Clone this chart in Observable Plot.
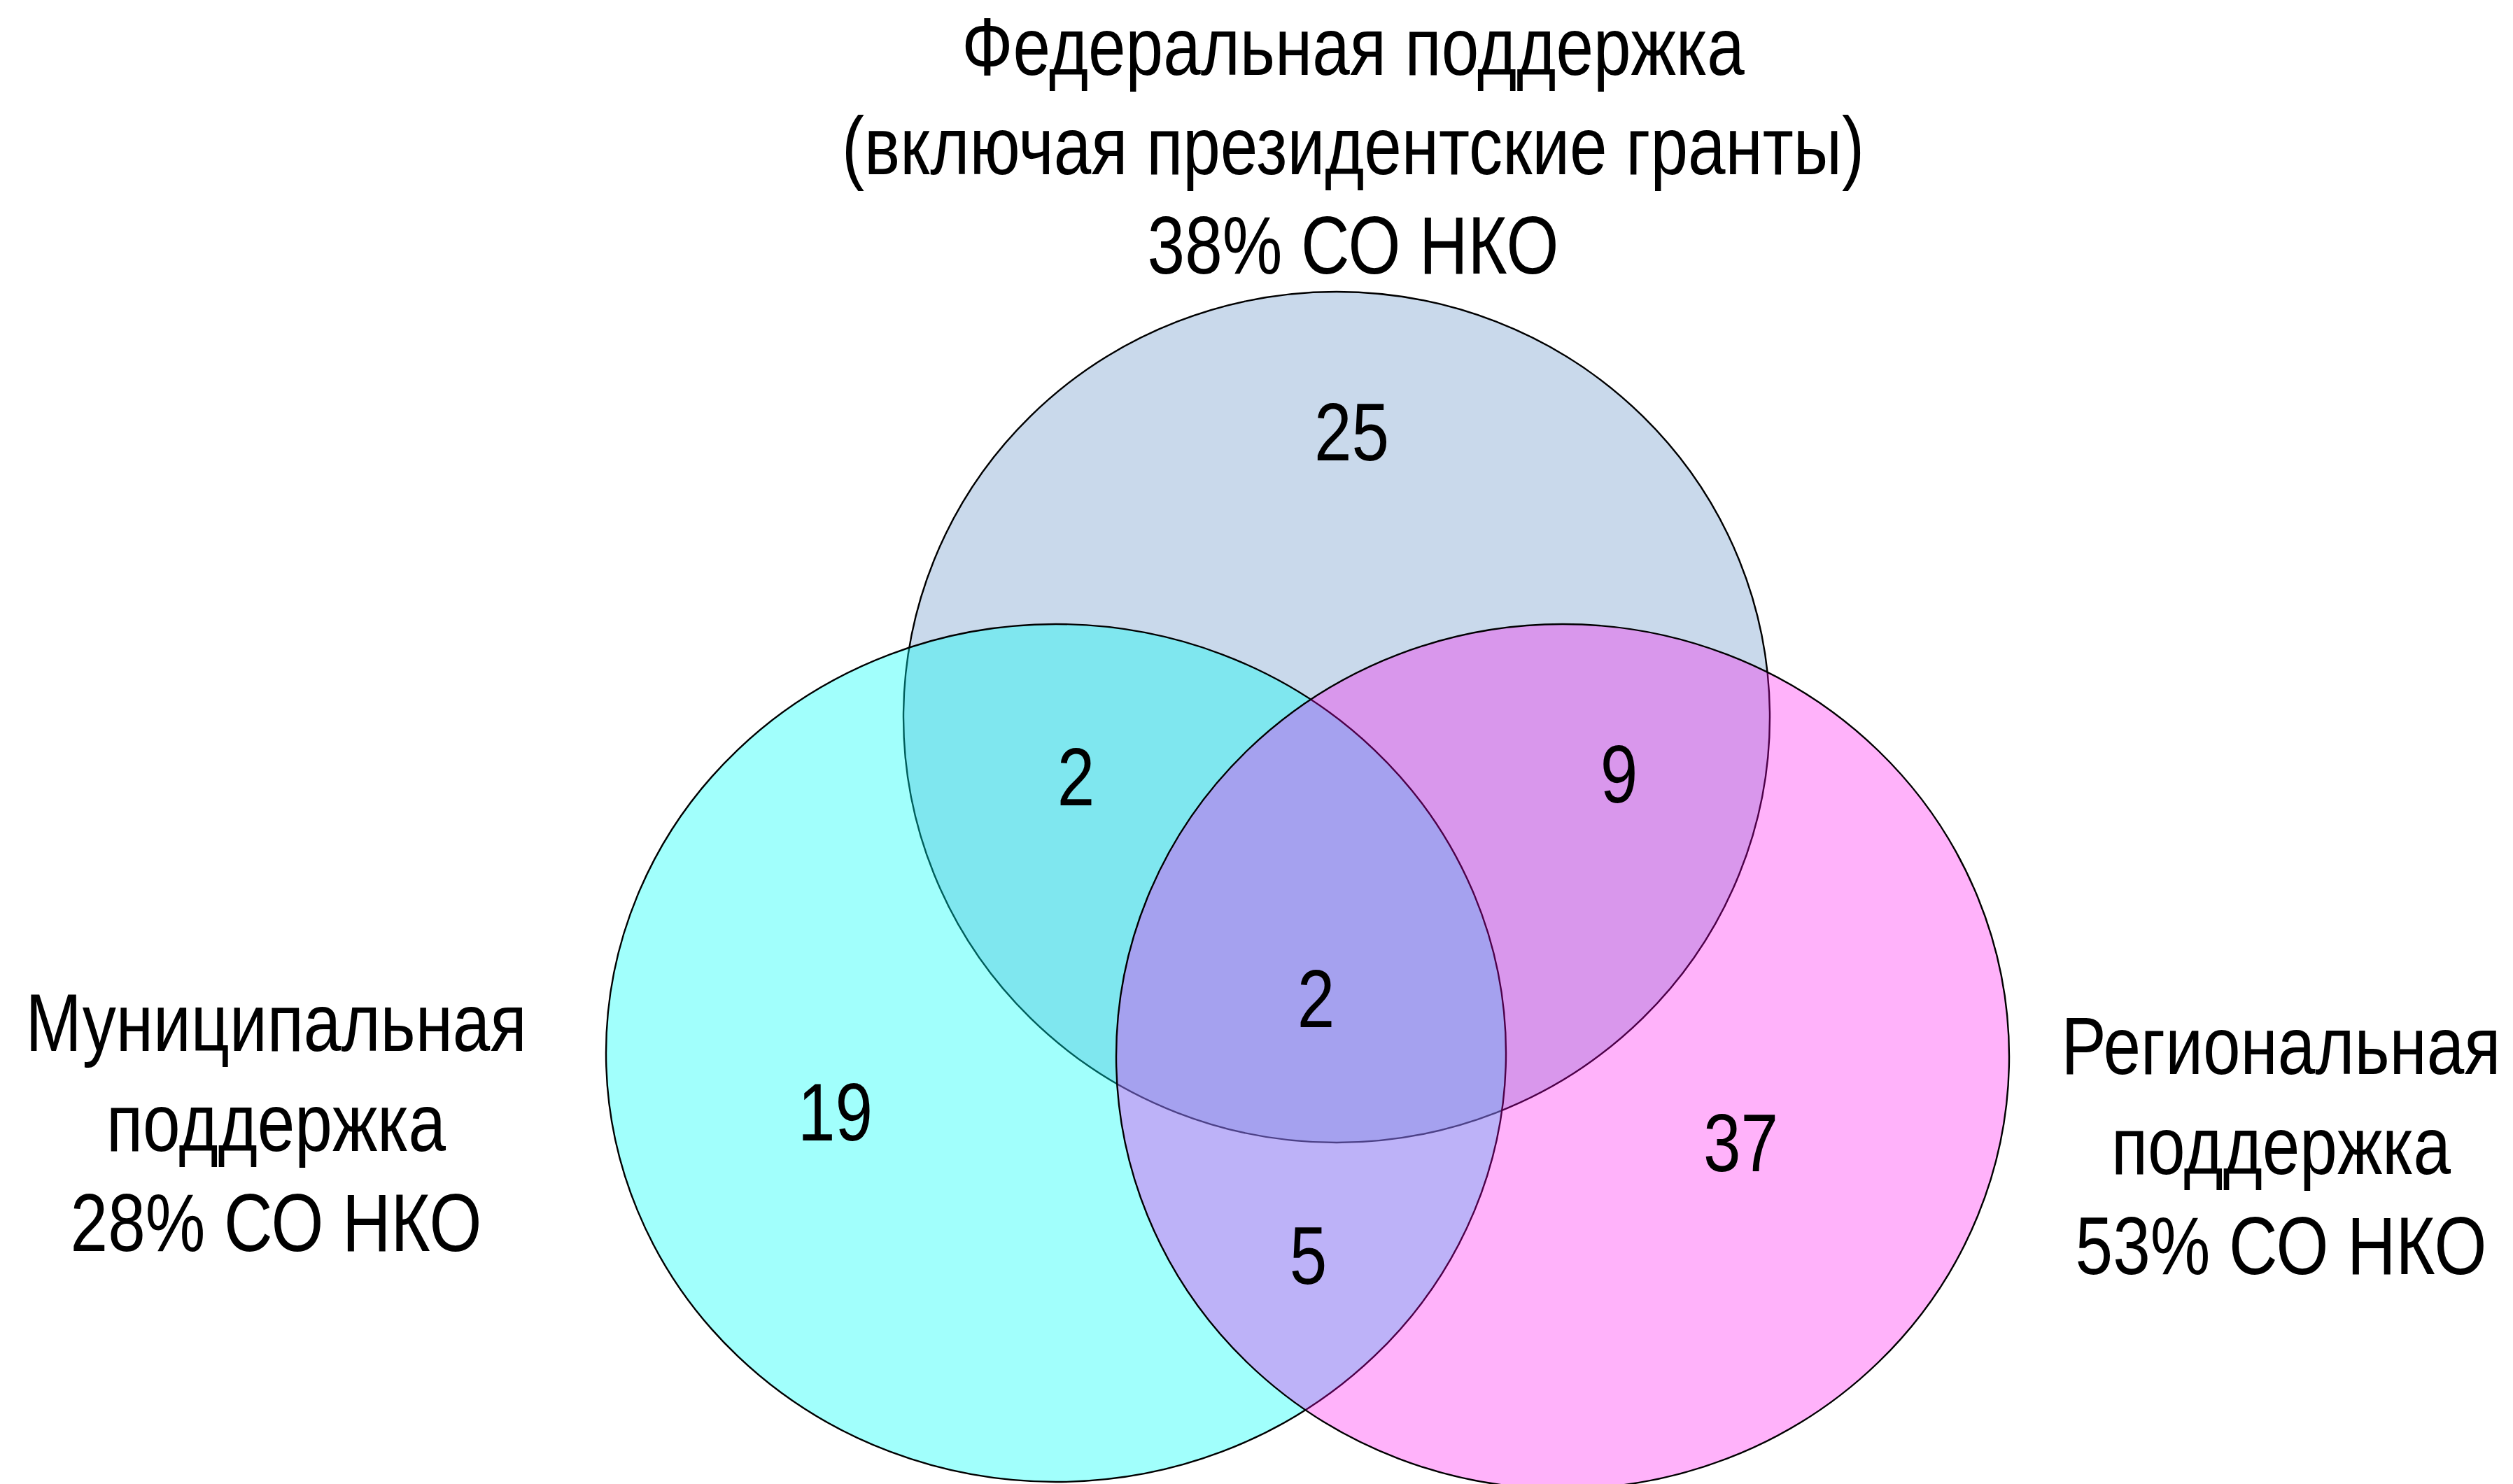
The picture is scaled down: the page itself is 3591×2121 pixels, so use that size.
<!DOCTYPE html>
<html>
<head>
<meta charset="utf-8">
<script src="https://cdn.jsdelivr.net/npm/d3@7"></script>
<script src="https://cdn.jsdelivr.net/npm/@observablehq/plot@0.6"></script>
<style>
  html, body { margin: 0; padding: 0; background: #ffffff; }
  #chart svg { display: block; }
</style>
</head>
<body>
<div id="chart"></div>
<script>
// ---------- DATA ----------
const setKeys = ["federal", "municipal", "regional"];
const setNames = [
  "Федеральная поддержка\n(включая президентские гранты)",
  "Муниципальная\nподдержка",
  "Региональная\nподдержка"
];
const setShares = [38, 28, 53];          // % СО НКО
const shareSuffix = "% СО НКО";

const regionKeys = ["F", "MF", "FR", "MFR", "M", "R", "MR"];
const regionCounts = [25, 2, 9, 2, 19, 37, 5];

// ---------- LAYOUT (canvas units, 3591 × 2121) ----------
const W = 3591, H = 2121;
const shapeGeom = {
  federal:   {cx: 1910, cy: 1025, rx: 619, ry: 608},
  municipal: {cx: 1509, cy: 1505, rx: 643, ry: 613},
  regional:  {cx: 2233, cy: 1510, rx: 638, ry: 618}
};
const shapeStyle = {
  federal:   {fill: "#c9d9eb", fillOpacity: 1},
  municipal: {fill: "#00fff8", fillOpacity: 0.37},
  regional:  {fill: "#ff00ee", fillOpacity: 0.30}
};
const setLabelAnchor = {          // centre x, baseline of last line, line height
  federal:   {x: 1933, y: 390, lh: 1.22},
  municipal: {x: 394,  y: 1787, lh: 1.23},
  regional:  {x: 3259, y: 1820, lh: 1.23}
};
const regionAnchor = {            // centre x, baseline
  F:   {x: 1931, y: 657},
  MF:  {x: 1537, y: 1150},
  FR:  {x: 2313, y: 1146},
  MFR: {x: 1880, y: 1467},
  M:   {x: 1193, y: 1629},
  R:   {x: 2487, y: 1673},
  MR:  {x: 1869, y: 1834}
};

const FONT = "'Liberation Sans', Arial, Helvetica, sans-serif";
const FONT_SIZE = 116;
const NARROW = 0.83;

// ---------- BUILD TABLES ----------
const shapes = setKeys.map(k => ({key: k, ...shapeGeom[k], ...shapeStyle[k]}));
const setLabels = setKeys.map((k, i) => ({
  key: k,
  text: setNames[i] + "\n" + setShares[i] + shareSuffix,
  ...setLabelAnchor[k]
}));
const regionLabels = regionKeys.map((k, i) => ({
  key: k, text: String(regionCounts[i]), ...regionAnchor[k]
}));

// ---------- PLOT ----------
const chart = Plot.plot({
  width: W,
  height: H,
  margin: 0,
  style: {background: "#ffffff"},
  x: {domain: [0, W], range: [0, W], axis: null},
  y: {domain: [0, H], range: [0, H], axis: null},
  marks: [
    Plot.dot(shapes, {
      x: "cx", y: "cy",
      render(index, scales, values, dimensions, context) {
        const {x, y} = scales;
        const g = d3.create("svg:g").attr("aria-label", "venn");
        for (const i of index) {
          const d = shapes[i];
          g.append("ellipse")
            .attr("cx", x(d.cx))
            .attr("cy", y(d.cy))
            .attr("rx", Math.abs(x(d.cx + d.rx) - x(d.cx)))
            .attr("ry", Math.abs(y(d.cy + d.ry) - y(d.cy)))
            .attr("fill", d.fill)
            .attr("fill-opacity", d.fillOpacity)
            .attr("stroke", "#000")
            .attr("stroke-width", 2.4);
        }
        return g.node();
      }
    }),
    Plot.text(regionLabels, {
      x: "x", y: "y", text: "text",
      fontSize: FONT_SIZE, fontFamily: FONT,
      fill: "#000", textAnchor: "middle", lineAnchor: "bottom"
    }),
    ...setLabels.map(d => Plot.text([d], {
      x: "x", y: "y", text: "text",
      fontSize: FONT_SIZE, fontFamily: FONT,
      fill: "#000", textAnchor: "middle", lineAnchor: "bottom", lineHeight: d.lh
    }))
  ]
});

// narrow (Arial Narrow–like) lettering
chart.querySelectorAll("text").forEach(t => {
  const tr = t.getAttribute("transform") || "";
  t.setAttribute("transform", tr + ` scale(${NARROW},1)`);
});

document.getElementById("chart").appendChild(chart);
</script>
</body>
</html>
